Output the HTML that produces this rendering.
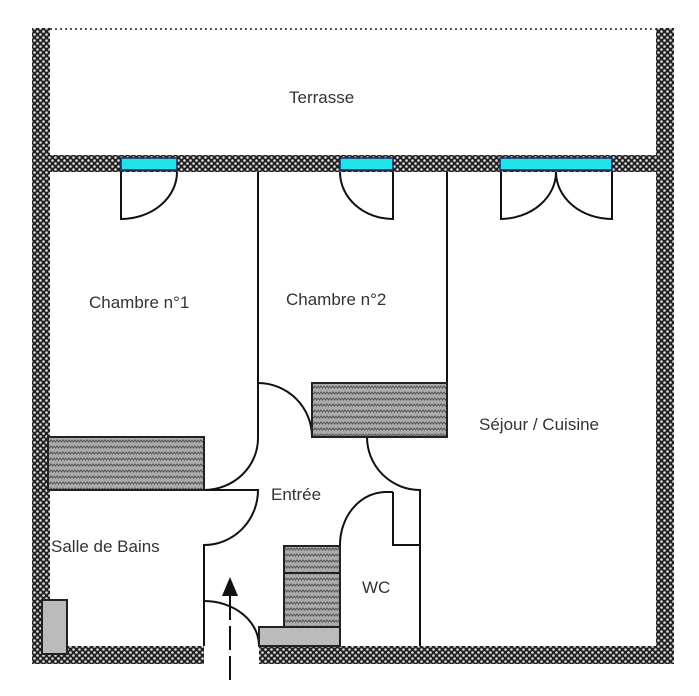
<!DOCTYPE html>
<html><head><meta charset="utf-8"><style>
html,body{margin:0;padding:0;background:#fff;}
svg{display:block;}
text{font-family:"Liberation Sans",sans-serif;font-size:17px;fill:#333;}
</style></head><body>
<svg width="699" height="696" viewBox="0 0 699 696" xmlns="http://www.w3.org/2000/svg">
<defs>
<pattern id="wall" width="6" height="6" patternUnits="userSpaceOnUse">
<rect width="6" height="6" fill="#222"/>
<circle cx="1.5" cy="1.5" r="1.3" fill="#ddd"/>
<circle cx="4.5" cy="4.5" r="1.3" fill="#ddd"/>
</pattern>
<pattern id="hatch" width="6" height="6" patternUnits="userSpaceOnUse">
<rect width="6" height="6" fill="#aaa"/>
<path d="M0 2 L1.5 4 L3 2 L4.5 4 L6 2" stroke="#555" stroke-width="1" fill="none"/>
</pattern>
</defs>
<!-- outer walls -->
<rect x="32" y="28" width="18" height="636" fill="url(#wall)"/>
<rect x="656" y="28" width="18" height="636" fill="url(#wall)"/>
<rect x="32" y="155" width="642" height="17" fill="url(#wall)"/>
<rect x="32" y="646" width="172" height="18" fill="url(#wall)"/>
<rect x="259" y="646" width="415" height="18" fill="url(#wall)"/>
<line x1="50" y1="29" x2="656" y2="29" stroke="#555" stroke-width="2" stroke-dasharray="2 3"/>
<!-- windows -->
<g fill="#22e4e8" stroke="#226" stroke-width="1.5">
<rect x="121" y="158" width="56" height="12"/>
<rect x="340" y="158" width="53" height="12"/>
<rect x="500" y="158" width="112" height="12"/>
</g>
<g stroke="#111" stroke-width="2" fill="none">
<!-- door 1 -->
<path d="M121 172 V219 A56 47 0 0 0 177 172"/>
<!-- door 2 -->
<path d="M393 172 V219 A53 47 0 0 1 340 172"/>
<!-- double door -->
<path d="M501 172 V219 A56 47 0 0 0 556 172 A56 47 0 0 0 612 219 V172"/>
<!-- interior walls -->
<line x1="258" y1="172" x2="258" y2="383"/>
<line x1="447" y1="172" x2="447" y2="383"/>
<path d="M258 383 A54 54 0 0 1 312 437"/>
<path d="M258 383 V438 A54 52 0 0 1 204 490"/>
<path d="M204 490 H258 A54 55 0 0 1 204 545 V646"/>
<path d="M204 601 A55 45 0 0 1 259 646"/>
<path d="M367 437 A53 53 0 0 0 420 490 V646"/>
<path d="M393 492 V545 H420"/>
<path d="M393 492 H386 A46 53 0 0 0 340 545 V646"/>
</g>
<!-- wardrobes -->
<rect x="312" y="383" width="135" height="54" fill="url(#hatch)" stroke="#222" stroke-width="2"/>
<rect x="48" y="437" width="156" height="53" fill="url(#hatch)" stroke="#222" stroke-width="2"/>
<!-- stairs -->
<rect x="284" y="546" width="56" height="27" fill="url(#hatch)" stroke="#222" stroke-width="2"/>
<rect x="284" y="573" width="56" height="54" fill="url(#hatch)" stroke="#222" stroke-width="2"/>
<rect x="259" y="627" width="81" height="19" fill="#bbb" stroke="#222" stroke-width="2"/>
<!-- bathroom box -->
<rect x="42" y="600" width="25" height="54" fill="#bbb" stroke="#222" stroke-width="2"/>
<!-- entry arrow -->
<line x1="230" y1="680" x2="230" y2="590" stroke="#111" stroke-width="2" stroke-dasharray="24 6"/>
<polygon points="222,596 238,596 230,577" fill="#111"/>
<!-- labels -->
<text x="289" y="103">Terrasse</text>
<text x="89" y="308">Chambre n°1</text>
<text x="286" y="305">Chambre n°2</text>
<text x="479" y="430">Séjour / Cuisine</text>
<text x="271" y="500">Entrée</text>
<text x="51" y="552">Salle de Bains</text>
<text x="362" y="593">WC</text>
</svg>
</body></html>
